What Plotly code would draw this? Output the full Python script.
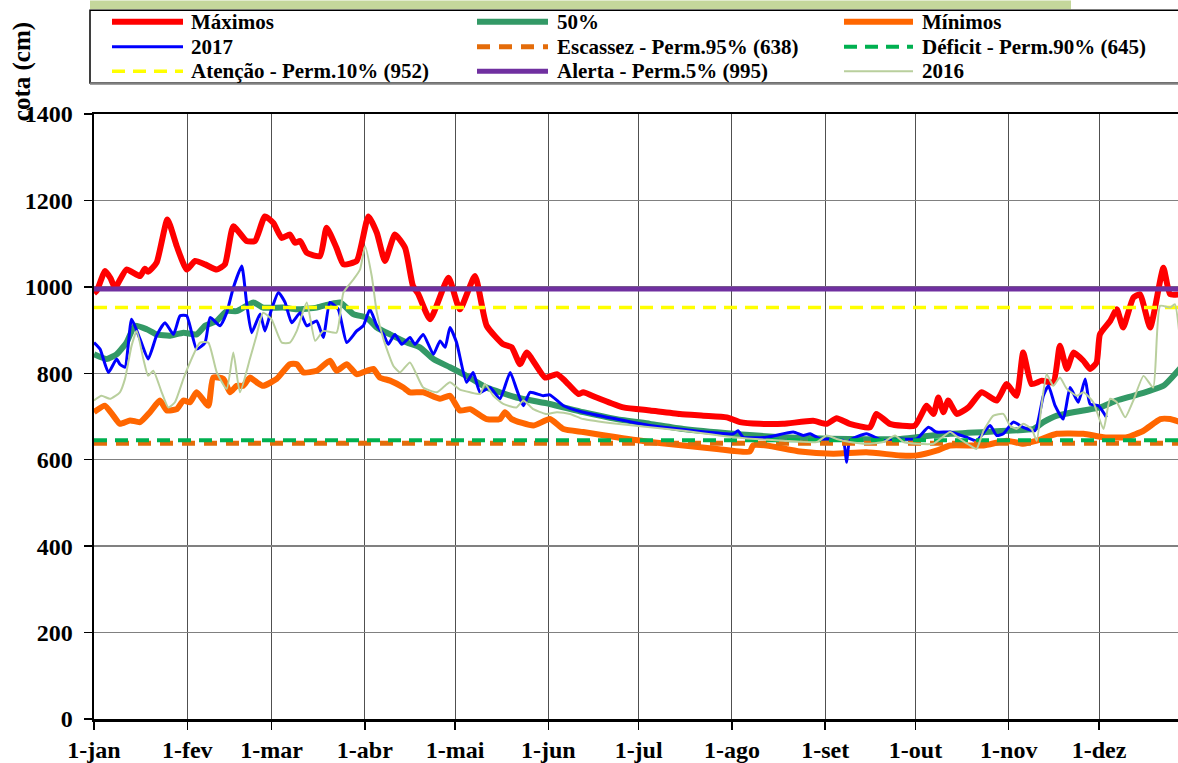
import plotly.graph_objects as go

# ---------------- data ----------------
month_days = [0, 31, 59, 90, 120, 151, 181, 212, 243, 273, 304, 334]
month_labels = ["1-jan", "1-fev", "1-mar", "1-abr", "1-mai", "1-jun",
                "1-jul", "1-ago", "1-set", "1-out", "1-nov", "1-dez"]
y_ticks = [0, 200, 400, 600, 800, 1000, 1200, 1400]

max_days = [0, 1, 3.7, 5.5, 7, 10.8, 15.3, 16.9, 18, 20.8, 24.4, 27.5, 30.8, 33.6, 36.9, 40.8, 43.5, 46.3,
            50.7, 53.5, 56.8, 59.6, 62.4, 65.1, 66.8, 68.5, 70.7, 75.1, 77.3, 80.6, 82.9, 87.3, 91.2, 94,
            96.7, 100, 103.4, 106, 107.8, 111.7, 117.8, 121.6, 126.6, 130.5, 136, 138.8, 141.6, 143.8,
            149.9, 153.8, 156.5, 161, 162.6, 167, 175.9, 184.8, 194.7, 202.5, 210.3, 214.7, 221.3, 229,
            239, 243.5, 246.8, 251.2, 257.9, 260, 264.5, 272.8, 276.7, 279, 280.6, 282.3, 283.9, 286.7,
            290.6, 295, 300, 303.3, 306.6, 308.8, 311.6, 315, 318.8, 321, 323.3, 325.5, 328.8, 331,
            333.2, 334.3, 337.7, 339.9, 342, 345.4, 347.6, 351, 355.4, 357.6, 361]
max_vals = [985, 992, 1037, 1020, 998, 1040, 1025, 1042, 1035, 1056, 1156, 1094, 1040, 1060, 1052, 1040,
            1052, 1140, 1106, 1106, 1163, 1148, 1113, 1121, 1102, 1106, 1079, 1071, 1137, 1090, 1052,
            1060, 1163, 1125, 1060, 1121, 1090, 1002, 983, 925, 1021, 948, 1025, 910, 867, 860, 821, 848,
            790, 798, 783, 752, 756, 744, 721, 714, 706, 702, 698, 687, 683, 683, 690, 683, 696, 683, 675,
            706, 683, 679, 725, 706, 744, 710, 737, 706, 721, 756, 737, 775, 748, 848, 775, 783, 779, 864,
            810, 848, 829, 810, 825, 890, 921, 948, 906, 975, 983, 906, 1044, 983, 983]

med_days = [0, 4.2, 7.5, 10.8, 13.6, 17.5, 20.8, 25.3, 29.7, 34.1, 36.9, 40.8, 44.1, 47.4, 53, 56.2, 62.9,
            67.4, 74, 78.4, 81.8, 86.2, 90.6, 94, 98.4, 104, 108.3, 112.8, 118.3, 123.8, 130.5, 140.4,
            151.5, 162.6, 173.7, 184.8, 195.9, 212.5, 229, 251, 268, 273.4, 284.5, 303.3, 312.2, 315.5,
            320, 328.8, 334.3, 339.9, 345.4, 351, 355.4, 361]
med_vals = [844, 833, 844, 871, 910, 902, 890, 887, 894, 890, 910, 921, 944, 944, 964, 952, 952, 948, 952,
            960, 964, 937, 929, 906, 890, 871, 860, 833, 814, 794, 767, 744, 729, 710, 694, 683, 671, 660,
            652, 648, 648, 652, 660, 667, 671, 687, 702, 714, 721, 737, 748, 760, 771, 812]

min_days = [0, 3.6, 6.4, 8.6, 12, 15.3, 18.6, 21.9, 24.2, 27.5, 29.7, 31.9, 34.1, 38, 39.6, 43, 45.2, 47.4,
            49.6, 51.8, 54.1, 56.2, 60.7, 65.1, 67.4, 69.6, 74, 78.4, 80.6, 84, 87.3, 92.8, 95, 98.4,
            102.8, 105, 109.4, 115, 118.3, 121.6, 125, 130.5, 134.9, 136.6, 138.8, 146, 151.5, 156, 162.6,
            173.7, 184.8, 195.9, 207, 218, 219, 223.5, 234.6, 245.7, 256.7, 268, 273.4, 280, 284.5, 295.6,
            303.3, 308.8, 313.3, 320, 328.8, 335.5, 343.3, 348.8, 354.4, 357.6, 361]
min_vals = [710, 725, 702, 683, 691, 687, 710, 737, 714, 717, 737, 733, 756, 725, 790, 787, 756, 771, 771,
            790, 779, 771, 787, 821, 821, 802, 806, 829, 806, 821, 798, 810, 790, 783, 767, 756, 756, 741,
            748, 714, 717, 694, 694, 710, 694, 679, 694, 671, 664, 652, 641, 633, 625, 619, 633, 633, 619,
            614, 617, 610, 610, 621, 633, 633, 644, 637, 644, 660, 660, 652, 652, 667, 694, 694, 687]

y2017_days = [0, 2, 4.8, 7.5, 8.6, 10.3, 12.5, 15.3, 18, 20.8, 23.6, 26.4, 28.6, 30.8, 34.1, 36.9, 38.6,
              41.9, 44.1, 46.3, 49.1, 50.7, 52.4, 55.2, 56.8, 59, 61.3, 63.5, 65.7, 68.5, 70.7, 74, 76.2,
              78.4, 81.2, 84, 87.3, 89.5, 91.7, 94, 96.2, 97.8, 100, 102.3, 105, 106.7, 109.4, 112.8, 115,
              116.7, 118.3, 120.5, 123.8, 126, 128.3, 131.6, 134.9, 138.3, 140.4, 142.7, 144.9, 149.3,
              151.5, 156, 162.6, 173.7, 184.8, 195.9, 212.5, 214, 215.8, 223.5, 232.4, 235.7, 238, 241.3,
              245.7, 249, 250.1, 251.2, 256.7, 262.3, 268, 273.4, 277.3, 280, 284.5, 290, 293.3, 297.8,
              300, 302.2, 305.5, 308.8, 312.7, 315.5, 317.2, 319.4, 322.1, 324.4, 327.1, 329.4, 331,
              333.8, 336.5]
y2017_vals = [871, 856, 802, 833, 821, 814, 925, 879, 833, 887, 917, 890, 933, 933, 856, 871, 929, 910, 940,
              998, 1048, 964, 894, 937, 898, 948, 987, 964, 917, 940, 910, 921, 883, 964, 948, 871, 898,
              910, 948, 910, 890, 867, 890, 867, 883, 867, 890, 844, 875, 860, 906, 871, 779, 802, 756,
              767, 741, 802, 764, 725, 756, 748, 750, 725, 710, 694, 679, 670, 660, 667, 652, 652, 664,
              656, 660, 648, 648, 644, 594, 644, 660, 644, 648, 648, 675, 664, 664, 652, 644, 679, 656,
              660, 687, 675, 667, 748, 771, 725, 694, 767, 733, 787, 729, 725, 698]

y2016_days = [0, 2.5, 5.3, 8.6, 10.3, 12.5, 14.2, 16.4, 18, 19.7, 22.5, 24.7, 26.9, 29.7, 31.9, 35.2, 38,
              40.8, 44.1, 46.3, 48.5, 51.8, 54, 56.2, 59, 62.4, 65.1, 67.4, 70.7, 73.5, 76.2, 80.6, 82.9,
              86.2, 88.4, 90.1, 92.3, 94, 96.2, 99.5, 101.7, 105, 109.4, 113.9, 116, 118.3, 121.6, 125,
              128.3, 129.9, 132.7, 136, 140.4, 142.7, 146, 150.2, 153.8, 158.2, 162.6, 173.7, 184.8, 195.9,
              212.5, 229, 240.2, 243.5, 246.8, 251.2, 256.7, 262.3, 266.2, 269, 273.4, 279, 281.2, 284.5,
              287.8, 291.1, 293.3, 295.6, 298.9, 302.2, 304.4, 306.6, 308.8, 311.6, 313.3, 314.9, 316.6,
              318.8, 321, 323.3, 326.6, 328.8, 332.1, 335.5, 337.7, 339.9, 342.7, 345.4, 348.8, 352, 354.3,
              357.6, 359.2, 361]
y2016_vals = [737, 748, 741, 756, 787, 864, 898, 833, 794, 806, 756, 721, 733, 787, 825, 871, 871, 802, 764,
              848, 756, 833, 887, 940, 925, 871, 871, 898, 964, 875, 898, 894, 987, 1017, 1040, 1094, 1025,
              940, 879, 817, 802, 825, 767, 756, 767, 779, 762, 756, 752, 775, 748, 729, 721, 737, 717, 706,
              710, 706, 694, 683, 675, 667, 652, 644, 641, 656, 648, 641, 637, 641, 656, 641, 637, 637, 648,
              664, 648, 633, 625, 667, 702, 706, 679, 671, 683, 671, 644, 725, 798, 771, 790, 764, 748, 756,
              733, 671, 741, 733, 698, 737, 794, 767, 956, 952, 960, 870]

line_span = [0, 365]
escassez = 638
deficit = 645
atencao = 952
alerta = 995

# ---------------- layout constants ----------------
W, H = 1178, 763
L, R, T, B = 94, 0, 114, 42
PW, PH = W - L - R, H - T - B
FONT = "Liberation Serif, Times New Roman, serif"


def px_x(p):
    return (p - L) / PW


def px_y(p):
    return (H - B - p) / PH


fig = go.Figure()

series = [
    ("Máximos", max_days, max_vals, dict(color="#FF0000", width=6)),
    ("50%", med_days, med_vals, dict(color="#339966", width=6)),
    ("Mínimos", min_days, min_vals, dict(color="#FF6600", width=6)),
    ("2017", y2017_days, y2017_vals, dict(color="#0000FF", width=3)),
    ("Escassez - Perm.95% (638)", line_span, [escassez, escassez], dict(color="#E46C0A", width=5, dash="13px,9px")),
    ("Déficit - Perm.90% (645)", line_span, [deficit, deficit], dict(color="#00B050", width=4, dash="13px,8px")),
    ("Atenção - Perm.10% (952)", line_span, [atencao, atencao], dict(color="#FFFF00", width=3.5, dash="13px,8px")),
    ("Alerta - Perm.5% (995)", line_span, [alerta, alerta], dict(color="#7030A0", width=5)),
    ("2016", y2016_days, y2016_vals, dict(color="#B9CF9D", width=2)),
]

for name, xs, ys, ln in series:
    trace_line = dict(ln)
    if len(xs) > 2:
        trace_line.update(shape="spline", smoothing=0.5)
    fig.add_trace(go.Scatter(x=xs, y=ys, mode="lines", name=name, line=trace_line, showlegend=False,
                             hoverinfo="skip"))

# ---------------- manual legend ----------------
shapes = []
annotations = []
shapes.append(dict(type="rect", xref="paper", yref="paper", x0=px_x(90), x1=px_x(1071),
                   y0=px_y(0), y1=px_y(9), fillcolor="#C4D79B", line=dict(width=0), layer="above"))
shapes.append(dict(type="rect", xref="paper", yref="paper", x0=px_x(90), x1=px_x(1190),
                   y0=px_y(83), y1=px_y(10), fillcolor="white", line=dict(color="black", width=1.5),
                   layer="above"))
shapes.append(dict(type="line", xref="paper", yref="paper", x0=px_x(90), x1=px_x(1190),
                   y0=px_y(83.5), y1=px_y(83.5), line=dict(color="#808080", width=2.5), layer="above"))

col_line = [(112, 183), (477, 548), (844, 913)]
col_text = [189, 555, 920]
row_y = [21.5, 46.5, 71]
for i, (name, xs, ys, ln) in enumerate(series):
    r, c = divmod(i, 3)
    yy = px_y(row_y[r])
    shapes.append(dict(type="line", xref="paper", yref="paper", x0=px_x(col_line[c][0]),
                       x1=px_x(col_line[c][1]), y0=yy, y1=yy,
                       line=dict(color=ln["color"], width=ln["width"], dash=ln.get("dash", "solid")),
                       layer="above"))
    annotations.append(dict(xref="paper", yref="paper", x=px_x(col_text[c]), y=yy, text=name,
                            showarrow=False, xanchor="left", yanchor="middle",
                            font=dict(family=FONT, size=21, color="black", weight="bold")))

annotations.append(dict(xref="paper", yref="paper", x=px_x(22), y=px_y(72), text="cota (cm)",
                        textangle=-90, showarrow=False, xanchor="center", yanchor="middle",
                        font=dict(family=FONT, size=25, color="black", weight="bold")))

fig.update_layout(
    width=W, height=H,
    margin=dict(l=L, r=R, t=T, b=B, pad=0),
    paper_bgcolor="white", plot_bgcolor="white",
    shapes=shapes, annotations=annotations,
    showlegend=False,
    font=dict(family=FONT, color="black"),
)

fig.update_xaxes(
    range=[0, 360.25], tickmode="array", tickvals=month_days, ticktext=month_labels,
    showgrid=True, gridcolor="#505050", gridwidth=1,
    showline=True, linecolor="black", linewidth=2.5, mirror=True,
    ticks="outside", ticklen=8, tickwidth=1.5, tickcolor="black",
    tickfont=dict(family=FONT, size=24, color="black", weight="bold"),
    zeroline=False,
)
fig.update_yaxes(
    range=[0, 1400], tickmode="array", tickvals=y_ticks,
    showgrid=True, gridcolor="#808080", gridwidth=1.5,
    showline=True, linecolor="black", linewidth=2.5, mirror=False,
    ticks="outside", ticklen=8, tickwidth=1.5, tickcolor="black",
    tickfont=dict(family=FONT, size=24, color="black", weight="bold"),
    ticklabelstandoff=6,
    zeroline=False,
)

fig.write_html("out.html",
               config={"displayModeBar": False, "staticPlot": True},
               post_script="document.body.style.margin='0';document.body.style.overflow='hidden';")
